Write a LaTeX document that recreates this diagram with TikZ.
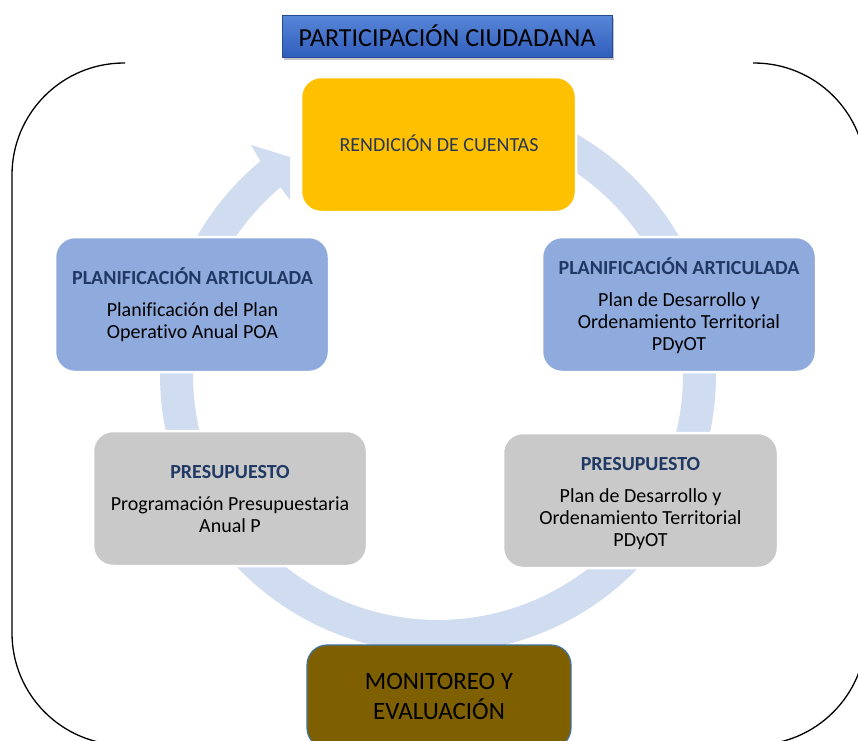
\documentclass[tikz,border=0pt]{standalone}
\usepackage{fontspec}
\setmainfont[Ligatures=NoCommon]{Carlito}
\usetikzlibrary{shadows}
\definecolor{ringc}{RGB}{208,220,240}
\definecolor{yelc}{RGB}{255,192,0}
\definecolor{bluec}{RGB}{143,170,220}
\definecolor{grayc}{RGB}{201,201,201}
\definecolor{brownc}{RGB}{127,96,0}
\definecolor{browndraw}{RGB}{65,113,156}
\definecolor{navyc}{RGB}{31,56,100}
\definecolor{slatec}{RGB}{40,55,88}
\definecolor{titletop}{RGB}{88,134,216}
\definecolor{titlebot}{RGB}{48,94,188}
\tikzset{
  boxshape/.style={rectangle, rounded corners=20pt, minimum width=274pt, minimum height=135pt, inner sep=0pt, draw=white, line width=2.5pt},
  linetxt/.style={anchor=base, inner sep=0pt, font=\fontsize{20}{24}\selectfont},
  headtxt/.style={anchor=base, inner sep=0pt, font=\fontsize{20}{24}\selectfont\bfseries, text=navyc},
  bigtxt/.style={anchor=base, inner sep=0pt, font=\fontsize{25}{30}\selectfont},
  frameline/.style={draw=black, line width=1.3pt}
}
\begin{document}
\begin{tikzpicture}[x=1pt,y=-1pt]
\useasboundingbox (0,0) rectangle (858,740);
\clip (0,0) rectangle (858,740);
\fill[white] (0,0) rectangle (858,740);

% outer frame (open at top)
\draw[frameline, rounded corners=112pt] (125,63) -- (12,63) -- (12,745) -- (866,745) -- (866,63) -- (753,63);

% circular arrow
\fill[ringc] plot[domain=0:1, samples=200] ({438+278*cos(80-310.6*\x)},{375-278*sin(80-310.6*\x)})
  -- (251,145) -- (290,157) -- (290,200)
  -- plot[domain=0:1, samples=200] ({438+245*cos(-230+310*\x)},{375-245*sin(-230+310*\x)}) -- cycle;

% title
\node[rectangle, minimum width=330pt, minimum height=42pt, inner sep=0pt,
      top color=titletop, bottom color=titlebot, draw=titlebot!80!black, line width=0.4pt,
      drop shadow={opacity=0.45, shadow xshift=2pt, shadow yshift=-2.5pt}] (title) at (447,36) {};
\node[bigtxt, font=\fontsize{26}{30}\selectfont] (titletxt) at (447,46.5) {PARTICIPACIÓN CIUDADANA};

% boxes
\node[boxshape, fill=yelc, minimum width=275pt] (rend) at (438.5,144.5) {};
\node[linetxt, text=slatec] (rendtxt) at (439,151) {RENDICIÓN DE CUENTAS};

\node[boxshape, fill=bluec] (pl) at (192,304.5) {};
\node[headtxt] (plh) at (192.5,284) {PLANIFICACIÓN ARTICULADA};
\node[linetxt] (pl1) at (192.5,316) {Planificación del Plan};
\node[linetxt] (pl2) at (192.5,338) {Operativo Anual POA};

\node[boxshape, fill=bluec] (pr) at (679,304.5) {};
\node[headtxt] (prh) at (679,274) {PLANIFICACIÓN ARTICULADA};
\node[linetxt] (pr1) at (679,306) {Plan de Desarrollo y};
\node[linetxt] (pr2) at (679,328) {Ordenamiento Territorial};
\node[linetxt] (pr3) at (679,350) {PDyOT};

\node[boxshape, fill=grayc] (gl) at (230,498.5) {};
\node[headtxt] (glh) at (230,478) {PRESUPUESTO};
\node[linetxt] (gl1) at (230,510) {Programación Presupuestaria};
\node[linetxt] (gl2) at (230,532) {Anual P};

\node[boxshape, fill=grayc, minimum width=275pt] (gr) at (640.5,500.5) {};
\node[headtxt] (grh) at (640.5,470) {PRESUPUESTO};
\node[linetxt] (gr1) at (640.5,502) {Plan de Desarrollo y};
\node[linetxt] (gr2) at (640.5,524) {Ordenamiento Territorial};
\node[linetxt] (gr3) at (640.5,546) {PDyOT};

\node[rectangle, rounded corners=20pt, minimum width=264pt, minimum height=103pt, inner sep=0pt,
      fill=brownc, draw=browndraw, line width=1.2pt] (mon) at (439,696.5) {};
\node[bigtxt] (mon1) at (439,689) {MONITOREO Y};
\node[bigtxt] (mon2) at (439,719) {EVALUACIÓN};
\end{tikzpicture}
\end{document}
